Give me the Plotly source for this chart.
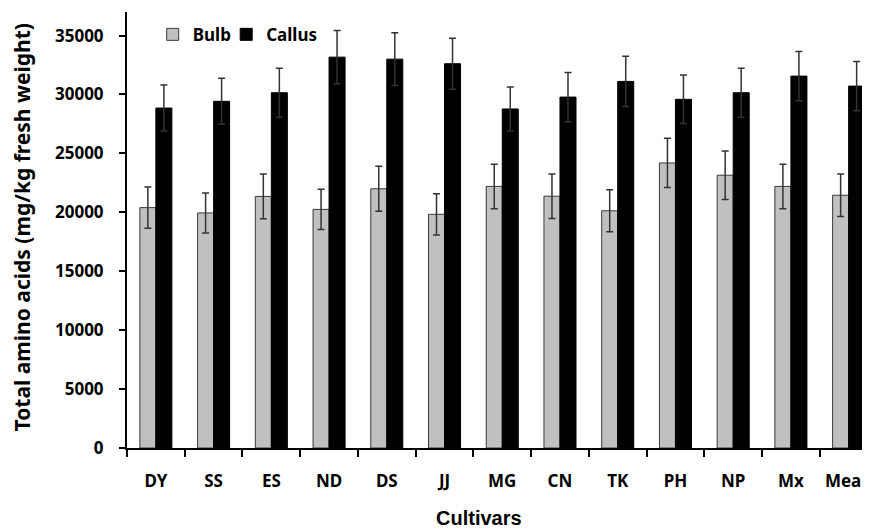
import plotly.graph_objects as go

cultivars = ["DY", "SS", "ES", "ND", "DS", "JJ", "MG", "CN", "TK", "PH", "NP", "Mx", "Mean"]
bulb = [20400, 19950, 21350, 20250, 22000, 19830, 22200, 21370, 20130, 24190, 23150, 22200, 21450]
bulb_err = [1750, 1700, 1900, 1700, 1900, 1750, 1890, 1890, 1780, 2090, 2060, 1890, 1800]
callus = [28850, 29420, 30150, 33170, 33000, 32610, 28770, 29780, 31110, 29590, 30150, 31560, 30710]
callus_err = [1950, 1950, 2080, 2260, 2230, 2170, 1860, 2090, 2140, 2060, 2080, 2090, 2090]
y_ticks = [0, 5000, 10000, 15000, 20000, 25000, 30000, 35000]

FONT = "Noto Sans"

fig = go.Figure()
fig.add_trace(go.Bar(
    name="Bulb", x=cultivars, y=bulb, legend="legend",
    marker=dict(color="#c0c0c0", line=dict(color="#3a3a3a", width=1)),
    error_y=dict(type="data", array=bulb_err, visible=True, color="#333333", thickness=1.5, width=3.5),
))
fig.add_trace(go.Bar(
    name="Callus", x=cultivars, y=callus, legend="legend2",
    marker=dict(color="#000000", line=dict(color="#000000", width=1)),
    error_y=dict(type="data", array=callus_err, visible=True, color="#333333", thickness=1.5, width=3.5),
))

legend_font = dict(family=FONT, size=17, color="black", weight="bold")

fig.update_layout(
    width=862, height=521,
    margin=dict(l=119, r=0, t=4, b=81, autoexpand=False),
    paper_bgcolor="white", plot_bgcolor="white",
    barmode="group", bargap=0.445, bargroupgap=0,
    font=dict(family=FONT, size=17, color="black", weight="bold"),
    showlegend=True,
    legend=dict(orientation="h", x=0.0346, y=0.989, xanchor="left", yanchor="top",
                font=legend_font, bgcolor="rgba(0,0,0,0)", itemwidth=30),
    legend2=dict(orientation="h", x=0.1335, y=0.989, xanchor="left", yanchor="top",
                 font=legend_font, bgcolor="rgba(0,0,0,0)", itemwidth=30),
    xaxis=dict(
        range=[-0.5, 12.37], showline=True, linecolor="black", linewidth=2,
        ticks="outside", tickson="boundaries", ticklen=7, tickwidth=2, tickcolor="black",
        tickfont=dict(family=FONT, size=17, color="black", weight="bold"),
        ticklabelstandoff=17, automargin=False,
        showgrid=False, zeroline=False, fixedrange=True,
    ),
    yaxis=dict(
        range=[0, 37000], tickvals=y_ticks, tickformat="d",
        showline=True, linecolor="black", linewidth=2,
        ticks="outside", ticklen=6, tickwidth=2, tickcolor="black",
        tickfont=dict(family=FONT, size=17, color="black", weight="bold"),
        ticklabelstandoff=12, automargin=False,
        showgrid=False, zeroline=False,
    ),
    annotations=[
        dict(text="Total amino acids (mg/kg fresh weight)", xref="paper", yref="paper",
             x=-0.1413, y=0.506, xanchor="center", yanchor="middle", textangle=-90, showarrow=False,
             font=dict(family=FONT, size=21, color="black", weight="bold")),
        dict(text="Cultivars", xref="paper", yref="paper",
             x=0.4738, y=-0.1597, xanchor="center", yanchor="middle", showarrow=False,
             font=dict(family="Liberation Sans", size=20, color="black", weight="bold")),
    ],
)

fig.write_html("out.html")
